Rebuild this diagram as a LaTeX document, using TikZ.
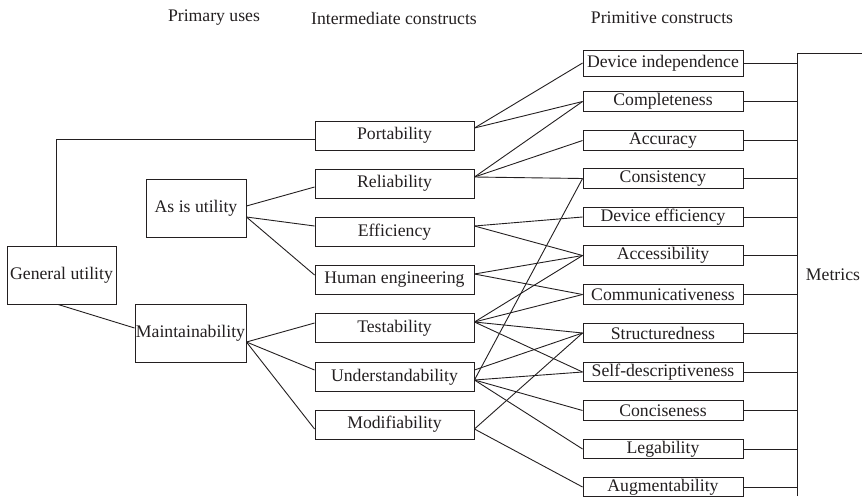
\documentclass[tikz,border=0pt]{standalone}
\usepackage{fontspec}
\setmainfont{Liberation Serif}
\begin{document}
\begin{tikzpicture}[x=1pt,y=-1pt,
  every node/.style={font=\fontsize{17.7}{21}\selectfont, text=ink},
  box/.style={draw=ink, line width=0.9pt, inner sep=0pt, anchor=center},
  lbox/.style={box, minimum height=58pt},
  mbox/.style={box, minimum width=159pt, minimum height=29pt},
  pbox/.style={box, minimum width=160pt, minimum height=19.5pt},
  conn/.style={draw=ink, line width=0.9pt},
  head/.style={inner sep=0pt}]
\definecolor{ink}{HTML}{231F20}
\useasboundingbox (0,0) rectangle (862,496);
% headers
\node[head] (h1) at (214,18) {Primary uses};
\node[head] (h2) at (394,18) {Intermediate constructs};
\node[head] (h3) at (662,18) {Primitive constructs};
% left column
\node[lbox, minimum width=109pt] (gu) at (61.5,275) {General utility};
\node[lbox, minimum width=100pt] (asis) at (196,208) {As is utility};
\node[lbox, minimum width=111pt] (maint) at (190.5,333) {Maintainability};
% middle column
\node[mbox] (port) at (394.5,135.5) {Portability};
\node[mbox] (rel) at (394.5,183.5) {Reliability};
\node[mbox] (eff) at (394.5,232) {Efficiency};
\node[mbox] (he) at (394.5,279.5) {Human engineering};
\node[mbox] (test) at (394.5,328) {Testability};
\node[mbox] (und) at (394.5,377) {Understandability};
\node[mbox] (mod) at (394.5,424.5) {Modifiability};
% right column
\node[pbox, minimum height=26pt] (di) at (663,63) {Device independence};
\node[pbox] (comp) at (663,101.5) {Completeness};
\node[pbox] (acc) at (663,140.5) {Accuracy};
\node[pbox] (cons) at (663,178.5) {Consistency};
\node[pbox] (de) at (663,217) {Device efficiency};
\node[pbox] (acs) at (663,255.5) {Accessibility};
\node[pbox] (comm) at (663,294.5) {Communicativeness};
\node[pbox] (str) at (663,333) {Structuredness};
\node[pbox] (sd) at (663,372) {Self-descriptiveness};
\node[pbox] (conc) at (663,410.5) {Conciseness};
\node[pbox] (leg) at (663,449) {Legability};
\node[pbox] (aug) at (663,487) {Augmentability};
% metrics
\node[head] (met) at (833,275) {Metrics};
\coordinate (bartop) at (797,53);
\coordinate (barbot) at (797,496);
\coordinate (barend) at (862,53);
\draw[conn] (barbot) -- (bartop) -- (barend);
\foreach \n in {di,comp,acc,cons,de,acs,comm,str,sd,conc,leg,aug}
  \draw[conn] (\n.east) -- (\n.east -| bartop);
% left connections
\draw[conn] ([xshift=-5.5pt]gu.north) |- ([yshift=-3.5pt]port.west);
\draw[conn] ([xshift=-3.5pt]gu.south) -- ([yshift=5pt]maint.west);
\draw[conn] ([yshift=2pt]asis.east) -- ([yshift=-3.5pt]rel.west);
\draw[conn] ([yshift=-9pt]asis.east) -- ([yshift=6pt]eff.west);
\draw[conn] ([yshift=-9pt]asis.east) -- ([yshift=4.5pt]he.west);
\draw[conn] ([yshift=-9pt]maint.east) -- ([yshift=5pt]test.west);
\draw[conn] ([yshift=-9pt]maint.east) -- ([yshift=7pt]und.west);
\draw[conn] ([yshift=-9pt]maint.east) -- ([yshift=-4.5pt]mod.west);
% right connections
\foreach \t in {di,comp} \draw[conn] ([yshift=7.5pt]port.east) -- (\t.west);
\foreach \t in {comp,acc,cons} \draw[conn] ([yshift=6.5pt]rel.east) -- (\t.west);
\foreach \t in {de,acs} \draw[conn] ([yshift=6pt]eff.east) -- (\t.west);
\foreach \t in {acs,comm} \draw[conn] ([yshift=5.5pt]he.east) -- (\t.west);
\foreach \t in {acs,comm,str,sd} \draw[conn] ([yshift=6pt]test.east) -- (\t.west);
\draw[conn] ([yshift=7pt]und.east) -- (str.west);
\foreach \t in {cons,sd,conc,leg} \draw[conn] ([yshift=-3pt]und.east) -- (\t.west);
\foreach \t in {str,aug} \draw[conn] ([yshift=-4.5pt]mod.east) -- (\t.west);
\end{tikzpicture}
\end{document}
